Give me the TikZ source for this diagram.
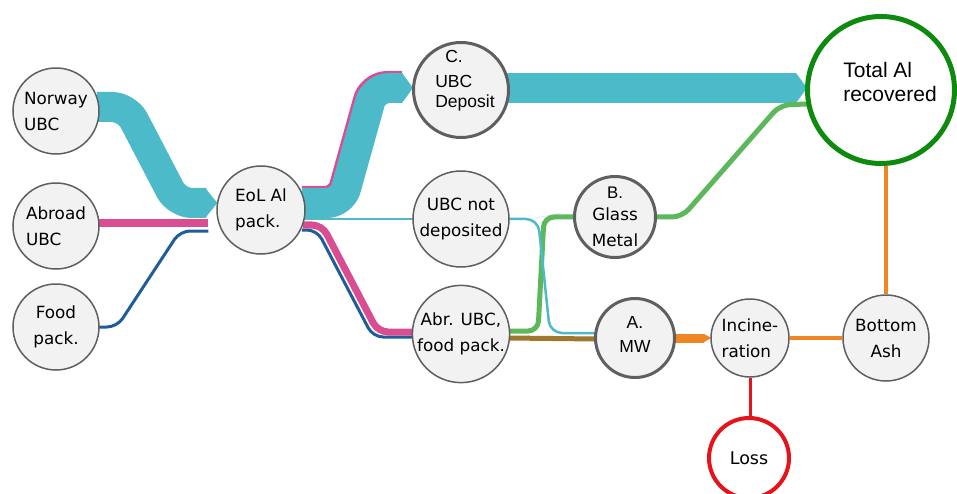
\documentclass[tikz,border=0pt]{standalone}
\usepackage{fontspec}
\setmainfont{DejaVu Sans}
\newfontfamily\arialf{Liberation Sans}
\usetikzlibrary{calc}
\definecolor{cteal}{HTML}{4CBAC9}
\definecolor{cpink}{HTML}{D94E93}
\definecolor{cblue}{HTML}{1F5C99}
\definecolor{cgreen}{HTML}{5DB85C}
\definecolor{cdgreen}{HTML}{0E8A0E}
\definecolor{corange}{HTML}{EE8624}
\definecolor{cred}{HTML}{E5141B}
\definecolor{cbrown}{HTML}{A0772E}
\definecolor{cfill}{HTML}{F2F2F2}
\definecolor{cborder}{HTML}{5F5F5F}
\pgfdeclarelayer{bg}
\pgfsetlayers{bg,main}
\tikzset{
  proc/.style={circle, draw=cborder, fill=cfill, line width=1.5pt, inner sep=0pt, align=center,
    font=\fontsize{16.8}{26}\selectfont},
  keyproc/.style={proc, line width=3pt},
  txt/.style={inner sep=0pt, align=center},
  flow/.style={line cap=butt, line join=round, rounded corners=10pt},
  bigflow/.style={flow, line width=30pt, rounded corners=15pt, draw=cteal},
}
\begin{document}
\begin{tikzpicture}[x=1pt,y=-1pt]
\useasboundingbox (0,0) rectangle (957,494);
% nodes
\node[proc, minimum size=86pt, align=left] (norway) at (56,111) {Norway\\UBC};
\node[proc, minimum size=86pt, align=left] (abroad) at (56,226) {Abroad\\UBC};
\node[proc, minimum size=86pt] (food) at (56,327) {Food\\pack.};
\node[proc, minimum size=88pt, align=left] (eol) at (261,210) {EoL Al\\pack.};
\node[keyproc, minimum size=95pt] (depo) at (461,90) {};
\node[txt, align=left, font=\arialf\fontsize{17.5}{20}\selectfont] (depotxt) at (465,81) {\hspace{10pt}C.\\[5pt]UBC\\Deposit};
\node[proc, minimum size=96pt] (notdep) at (461,219) {UBC not\\deposited};
\node[proc, minimum size=94pt] (abr) at (461,334) {Abr. UBC,\\food pack.};
\node[keyproc, minimum size=81pt] (glass) at (615,217) {{\arialf B.}\\[-4pt]Glass\\Metal};
\node[keyproc, minimum size=79pt] (mw) at (635,338) {};
\node[txt, font=\arialf\fontsize{17.5}{24}\selectfont] (mwtxt) at (635,334) {A.\\MW};
\node[proc, minimum size=78pt, align=left] (incin) at (750,338) {Incine-\\ration};
\node[proc, minimum size=86pt] (ash) at (886,338) {Bottom\\Ash};
\node[circle, draw=cred, fill=white, line width=4pt, minimum size=80pt, inner sep=0pt,
  font=\fontsize{17.5}{24}\selectfont] (loss) at (749,458) {Loss};
\node[circle, draw=cdgreen, fill=white, line width=5pt, minimum size=147pt, inner sep=0pt] (total) at (881,90) {};
\node[txt, align=left, font=\arialf\fontsize{21}{24}\selectfont] (totaltxt) at (890,82) {Total Al\\recovered};
% flows
\begin{pgfonlayer}{bg}
\fill[white] (0,0) rectangle (957,494);
% Norway -> EoL
\draw[bigflow] ($(norway.east)+(-3,-4)$) -- (127,107) -- (177,203) -- ($(eol.west)+(-10,-7)$);
\fill[cteal] ($(eol.west)+(1,-7)$) -- ++(-12,-15) -- ++(0,30) -- cycle;
% Abroad -> EoL
\draw[flow, cpink, line width=8pt] ($(abroad.east)+(-3,-3)$) -- ($(eol.west)+(-8,13)$);
% Food -> EoL
\draw[flow, cblue, line width=3pt] ($(food.east)+(-2,0)$) -- (117,327) -- (180,231) -- ($(eol.west)+(-8,21)$);
% EoL -> Deposit (pink edge under teal)
\draw[bigflow, draw=cpink] ($(eol.east)+(-4,-9)$) -- (340,201) -- (372,86) -- ($(depo.west)+(-10,-4)$);
\draw[bigflow] ($(eol.east)+(-4,-7)$) -- (342,203) -- (374,88) -- ($(depo.west)+(-10,-2)$);
\fill[cteal] ($(depo.west)+(1,-2)$) -- ++(-11,-15) -- ++(0,30) -- cycle;
% EoL -> not deposited
\draw[flow, cteal, line width=2.5pt] ($(eol.east)+(-3,9)$) -- ($(notdep.west)+(1,0)$);
% EoL -> Abr. UBC
\draw[flow, cblue, line width=3pt] ($(eol.east)+(-4,20)$) -- (317,230) -- (373,337) -- ($(abr.west)+(2,3)$);
\draw[flow, cpink, line width=7pt] ($(eol.east)+(-3,15)$) -- (322,225) -- (378,332) -- ($(abr.west)+(2,-2)$);
% Deposit -> Total
\draw[bigflow, rounded corners=0pt] ($(depo.east)+(-3,-2)$) -- ($(total.west)+(-9,-2)$);
\fill[cteal] ($(total.west)+(2,-2)$) -- ++(-11,-15) -- ++(0,30) -- cycle;
% faint not deposited -> glass
\draw[cteal!25, line width=0.8pt] ($(notdep.east)+(26,-1)$) -- ($(glass.west)+(-12,-4)$);
% Abr -> Glass
\draw[flow, cgreen, line width=5pt] ($(abr.east)+(-2,-3)$) -- (538,331) -- (544,217) -- ($(glass.west)+(2,0)$);
% Abr -> MW
\draw[flow, cbrown, line width=5pt] ($(abr.east)+(-2,4)$) -- ($(mw.west)+(2,1)$);
% not deposited -> MW
\draw[flow, cteal, line width=2.5pt, rounded corners=12pt] ($(notdep.east)+(-2,0)$) -- (538,219) -- (550,333) -- ($(mw.west)+(1,-5)$);
% Glass -> Total
\draw[flow, cgreen, line width=5pt] ($(glass.east)+(-2,0)$) -- (682,217) -- (780,105) -- ($(total.west)+(2,14)$);
% MW -> Incineration
\draw[flow, corange, line width=9pt] ($(mw.east)+(-2,0)$) -- ($(incin.west)+(-6,0)$);
\fill[corange] ($(incin.west)+(1,0)$) -- ++(-8,-4.5) -- ++(0,9) -- cycle;
% Incineration -> Bottom Ash
\draw[corange, line width=4pt] (incin.east) -- (ash.west);
% Bottom Ash -> Total
\draw[corange, line width=4pt] (ash.north) -- (ash.north |- total.south);
% Incineration -> Loss
\draw[cred, line width=3pt] (incin.south) -- (incin.south |- loss.north);
\end{pgfonlayer}
\end{tikzpicture}
\end{document}
